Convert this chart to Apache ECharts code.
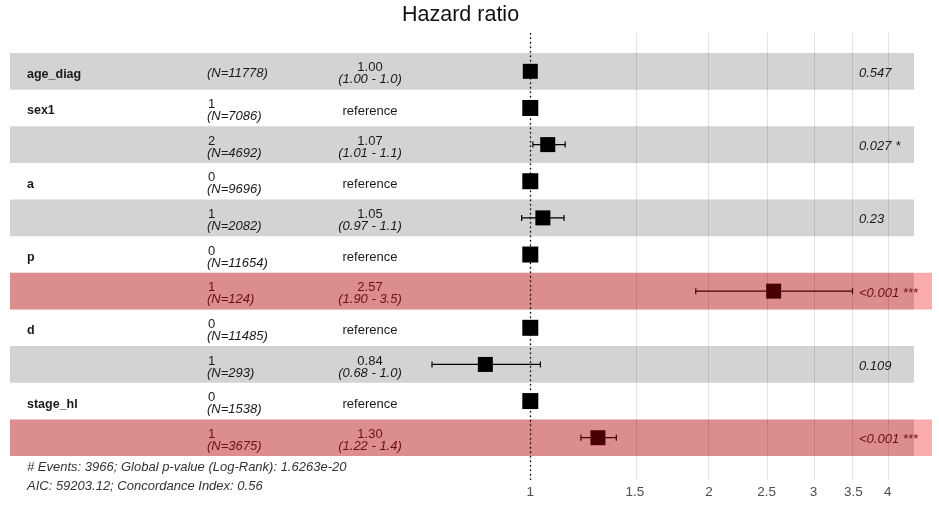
<!DOCTYPE html>
<html>
<head>
<meta charset="utf-8">
<script src="https://cdn.jsdelivr.net/npm/echarts@6/dist/echarts.min.js"></script>
<style>
html,body{margin:0;padding:0;background:#fff;}
#chart{width:939px;height:522px;}
</style>
</head>
<body>
<div id="chart"></div>
<script>
// ---- data ----
const varNames   = ['age_diag','sex1','','a','','p','','d','','stage_hl',''];
const levels     = ['','1','2','0','1','0','1','0','1','0','1'];
const nCounts    = [11778,7086,4692,9696,2082,11654,124,11485,293,1538,3675];
const hrValues   = [1.00,1,1.07,1,1.05,1,2.57,1,0.84,1,1.30];
const ciLow      = [1.00,null,1.01,null,0.967,null,1.90,null,0.683,null,1.217];
const ciHigh     = [1.003,null,1.145,null,1.14,null,3.49,null,1.04,null,1.396];
const isRef      = [false,true,false,true,false,true,false,true,false,true,false];
const hrLabels   = ['1.00','reference','1.07','reference','1.05','reference','2.57','reference','0.84','reference','1.30'];
const ciLabels   = ['(1.00 - 1.0)','','(1.01 - 1.1)','','(0.97 - 1.1)','','(1.90 - 3.5)','','(0.68 - 1.0)','','(1.22 - 1.4)'];
const pLabels    = ['0.547','','0.027 *','','0.23','','<0.001 ***','','0.109','','<0.001 ***'];
const highlighted= [6,10];
const tickVals   = [1,1.5,2,2.5,3,3.5,4];
const tickLabels = ['1','1.5','2','2.5','3','3.5','4'];
const footer1 = '# Events: 3966; Global p-value (Log-Rank): 1.6263e-20';
const footer2 = 'AIC: 59203.12; Concordance Index: 0.56';

// ---- layout ----
const FONT = 'Liberation Sans';
const PX_PER_LN = 257.8, X_ONE = 530.3;
const GRID_L = 10, GRID_R = 932, GRID_T = 33, GRID_B = 480;
const ROW_TOP = 53, ROW_H = 36.64;
const X_MIN = (GRID_L - X_ONE) / PX_PER_LN;
const X_MAX = (GRID_R - X_ONE) / PX_PER_LN;
const Y_MIN = -(ROW_TOP - GRID_T) / ROW_H;
const Y_MAX = (GRID_B - ROW_TOP) / ROW_H;
const GRAY_RIGHT = 914;
const nRows = varNames.length;
const TXT = '#1a1a1a', RED_TXT = '#6e1010', RED_MARK = '#4a0000';
const FS = 13;

const chart = echarts.init(document.getElementById('chart'), null, {renderer:'canvas'});

const rowIdx = varNames.map((_, i) => i);

function txt(text, x, y, opts) {
  return {type:'text', style:Object.assign({text, x, y, fontFamily:FONT, fontSize:FS,
    align:'left', verticalAlign:'middle', textAlign:'left', textVerticalAlign:'middle', fill:TXT}, opts||{})};
}

const option = {
  animation:false,
  backgroundColor:'#fff',
  grid:{left:GRID_L, right:939-GRID_R, top:GRID_T, bottom:522-GRID_B, containLabel:false, outerBoundsMode:'none'},
  xAxis:{type:'value', min:X_MIN, max:X_MAX,
    axisLine:{show:false}, axisTick:{show:false}, splitLine:{show:false},
    axisLabel:{customValues:tickVals.map(Math.log), margin:5, color:'#4d4d4d', fontSize:13.5, fontFamily:FONT,
      formatter:function(v){ let b=0,bd=1e9; tickVals.forEach((t,k)=>{const d=Math.abs(Math.log(t)-v); if(d<bd){bd=d;b=k;}}); return tickLabels[b]; }}},
  yAxis:{type:'value', inverse:true, min:Y_MIN, max:Y_MAX, show:false},
  graphic:[
    {type:'text', left:402, top:4, style:{text:'Hazard ratio', fontSize:21.5, fontFamily:FONT, fill:'#111'}},
    {type:'text', left:27, top:461, style:{text:footer1, fontSize:13, fontStyle:'italic', fontFamily:FONT, fill:'#333'}},
    {type:'text', left:27, top:480, style:{text:footer2, fontSize:13, fontStyle:'italic', fontFamily:FONT, fill:'#333'}}
  ],
  series:[
    // row bands
    {type:'custom', z:1, silent:true, data:rowIdx.map(i=>[0,i]),
      encode:{x:0,y:1},
      renderItem:function(params, api){
        const i = api.value(1);
        const y0 = api.coord([0,i])[1], y1 = api.coord([0,i+1])[1];
        const children = [];
        if (i % 2 === 0) children.push({type:'rect', shape:{x:GRID_L, y:y0, width:GRAY_RIGHT-GRID_L, height:y1-y0}, style:{fill:'#d3d3d3'}});
        if (highlighted.indexOf(i) >= 0) children.push({type:'rect', shape:{x:GRID_L, y:y0, width:GRID_R-GRID_L, height:y1-y0}, style:{fill:'rgba(240,0,0,0.33)'}});
        return {type:'group', children};
      }},
    // grid lines and reference line
    {type:'line', z:2, data:[], silent:true,
      markLine:{silent:true, symbol:'none', animation:false, label:{show:false},
        data:tickVals.map(v=>({xAxis:Math.log(v), lineStyle:{color:'rgba(0,0,0,0.11)', width:1, type:'solid'}}))
          .concat([{xAxis:0, lineStyle:{color:'#000', width:1.3, type:[1.5,3]}}])}},
    // CI bars
    {type:'custom', z:4, silent:true,
      data:rowIdx.filter(i=>ciLow[i]!==null && ciLow[i]!==ciHigh[i]).map(i=>[Math.log(ciLow[i]), Math.log(ciHigh[i]), i+0.5, highlighted.indexOf(i)>=0?1:0]),
      encode:{x:[0,1], y:2},
      renderItem:function(params, api){
        const y = api.value(2);
        const p1 = api.coord([api.value(0), y]), p2 = api.coord([api.value(1), y]);
        const col = api.value(3) ? RED_MARK : '#000';
        const ls = {stroke:col, lineWidth:1.2};
        return {type:'group', children:[
          {type:'line', shape:{x1:p1[0], y1:p1[1], x2:p2[0], y2:p2[1]}, style:ls},
          {type:'line', shape:{x1:p1[0], y1:p1[1]-3, x2:p1[0], y2:p1[1]+3}, style:ls},
          {type:'line', shape:{x1:p2[0], y1:p2[1]-3, x2:p2[0], y2:p2[1]+3}, style:ls}
        ]};
      }},
    // point estimates
    {type:'scatter', z:5, silent:true, symbol:'rect',
      data:rowIdx.map(i=>({value:[Math.log(hrValues[i]), i+0.5],
        symbolSize: isRef[i] ? 16 : 15,
        itemStyle:{opacity:1, color: highlighted.indexOf(i)>=0 ? RED_MARK : '#000'}}))},
    // text columns
    {type:'custom', z:6, silent:true, data:rowIdx.map(i=>[0,i+0.5]),
      encode:{x:0,y:1},
      renderItem:function(params, api){
        const i = params.dataIndex;
        const c = api.coord([0, i+0.5])[1];
        const red = highlighted.indexOf(i)>=0;
        const fc = red ? RED_TXT : TXT;
        const ch = [];
        if (varNames[i]) ch.push(txt(varNames[i], 27, c+3, {fontWeight:'bold', fill:TXT, fontSize:12.5}));
        const nTxt = '(N=' + nCounts[i] + ')';
        if (levels[i]) {
          ch.push(txt(levels[i], 208, c-3.5, {fill:fc}));
          ch.push(txt(nTxt, 207, c+8.5, {fill:fc, fontStyle:'italic'}));
        } else {
          ch.push(txt(nTxt, 207, c+2.5, {fill:fc, fontStyle:'italic'}));
        }
        if (isRef[i]) {
          ch.push(txt(hrLabels[i], 370, c+3, {fill:fc, align:'center', textAlign:'center'}));
        } else {
          ch.push(txt(hrLabels[i], 370, c-3.5, {fill:fc, align:'center', textAlign:'center'}));
          ch.push(txt(ciLabels[i], 370, c+8.5, {fill:fc, align:'center', textAlign:'center', fontStyle:'italic'}));
        }
        if (pLabels[i]) ch.push(txt(pLabels[i], 859, c+2, {fill:fc, fontStyle:'italic'}));
        return {type:'group', children:ch};
      }}
  ]
};
chart.setOption(option);
</script>
</body>
</html>
